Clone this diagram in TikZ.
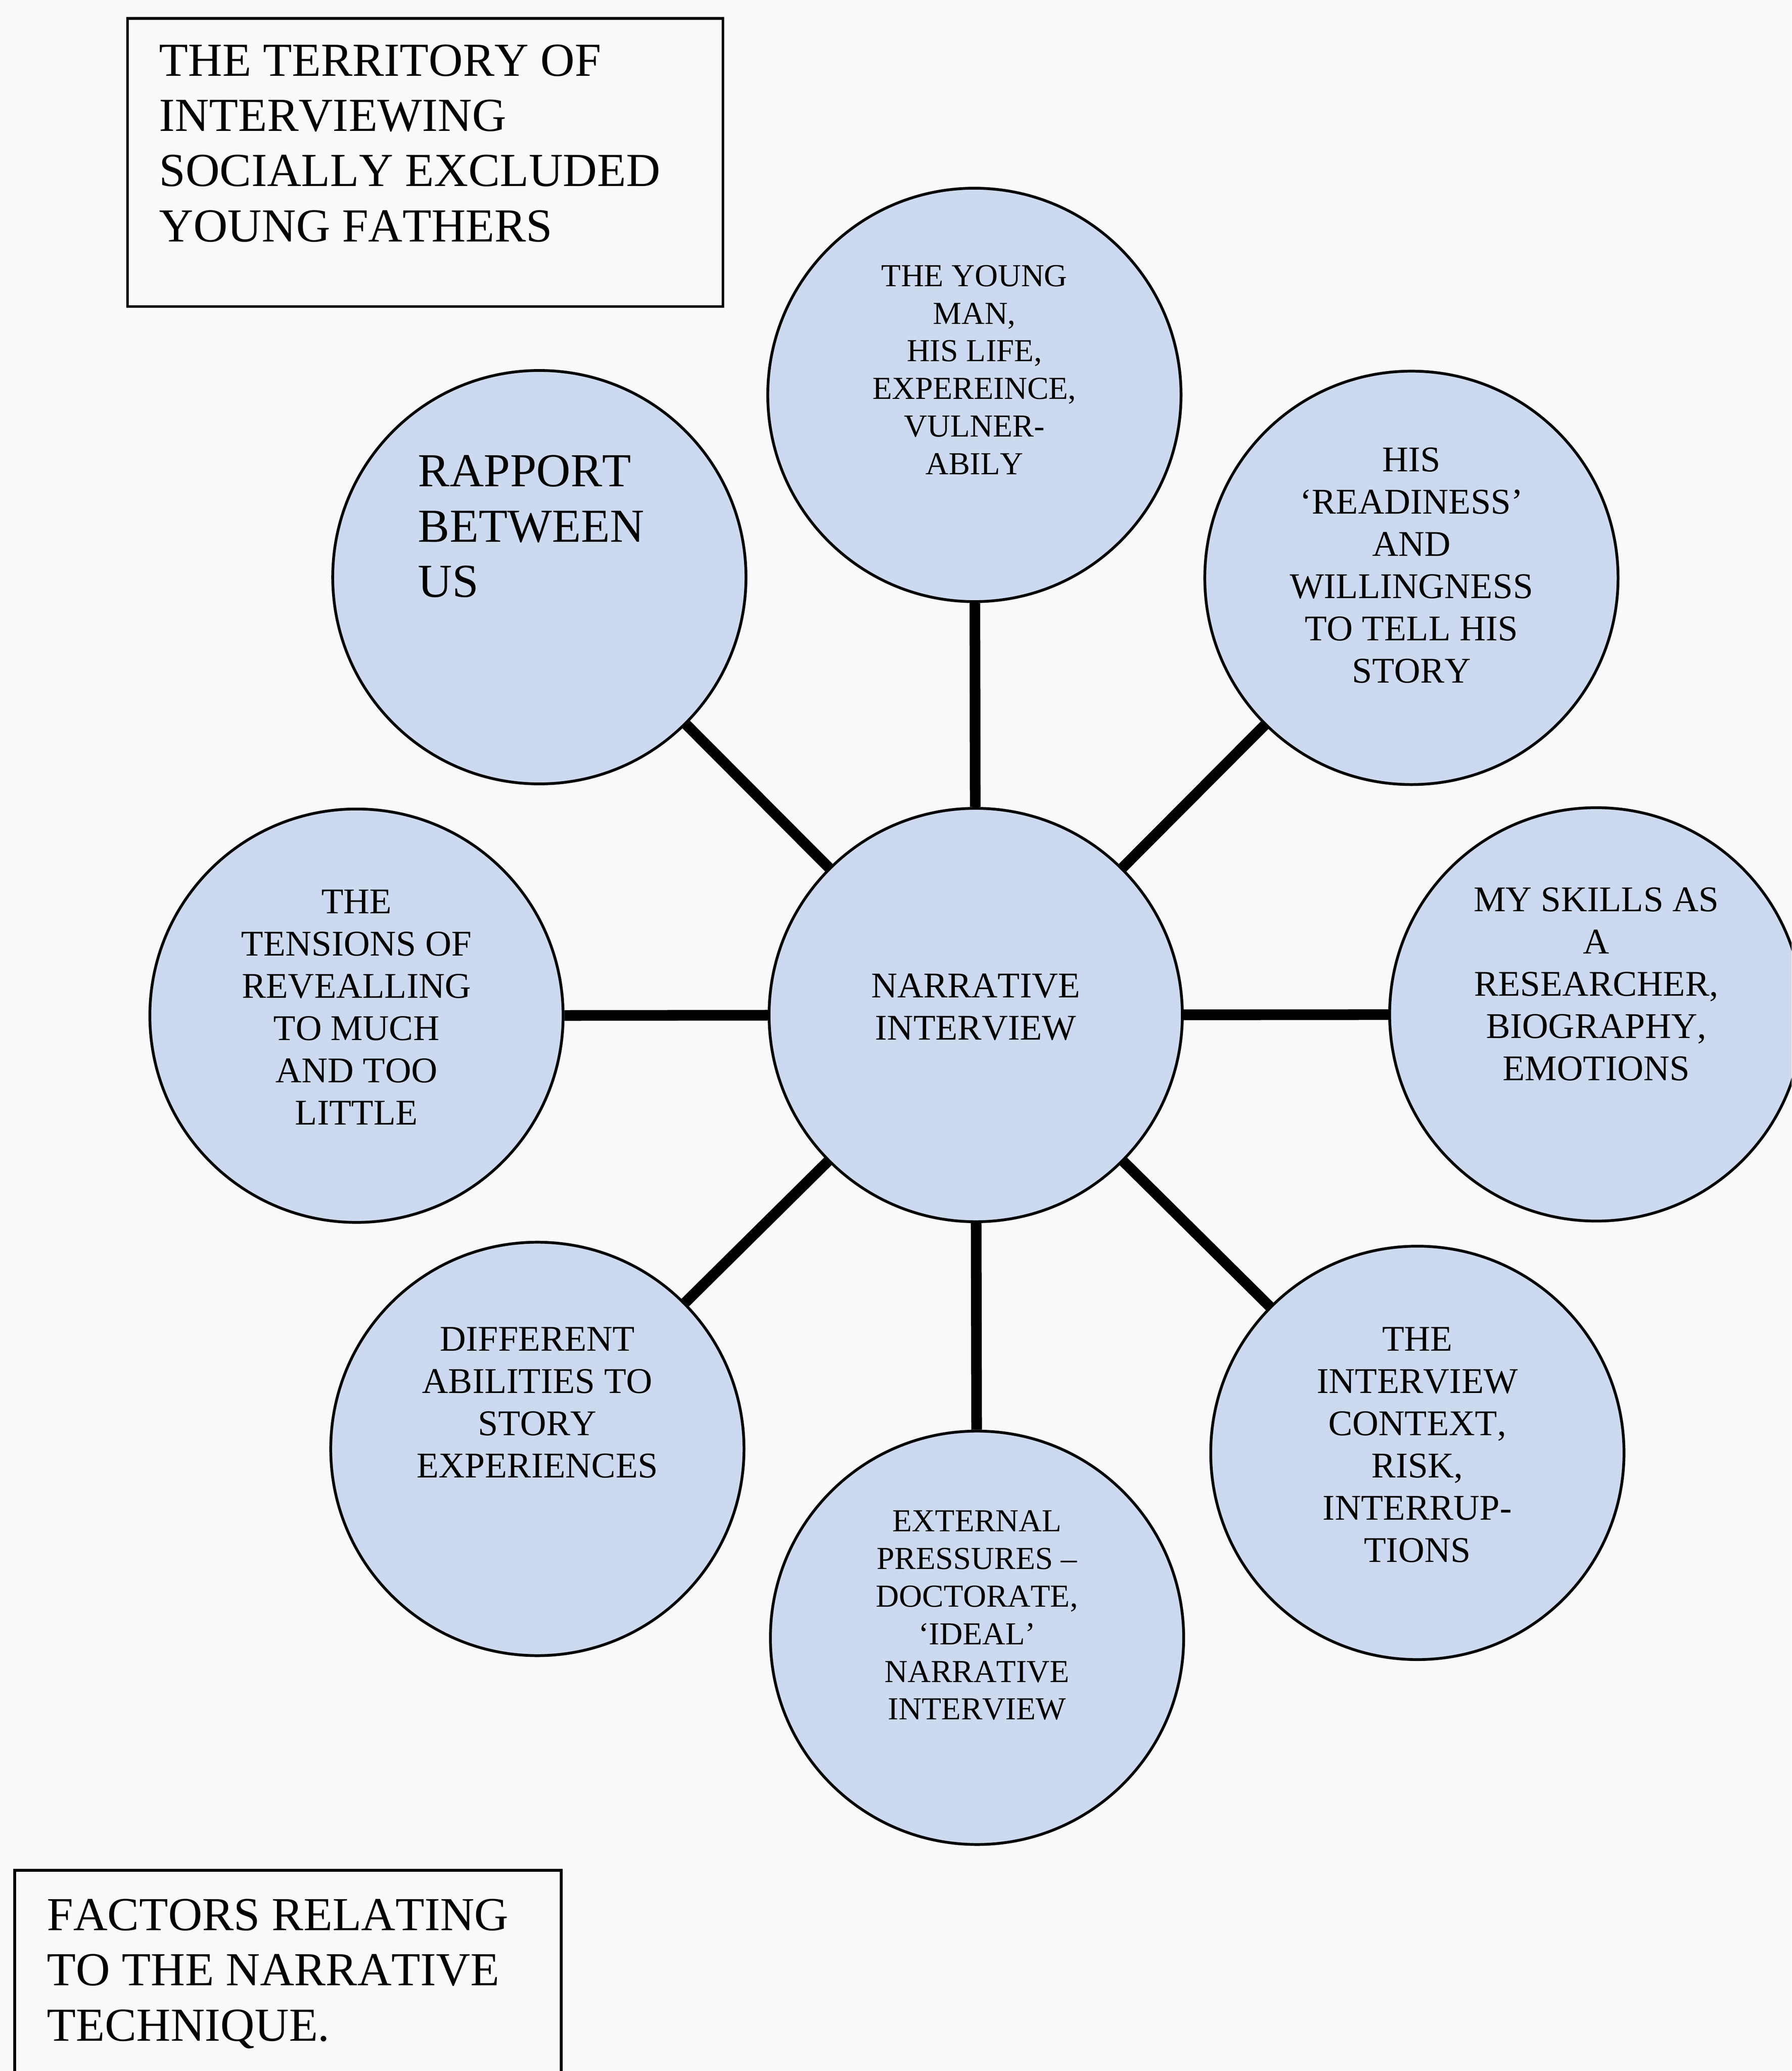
\documentclass[tikz,border=0pt]{standalone}
\usepackage{fontspec}
\setmainfont{Liberation Serif}[Kerning=Off]
\usepackage{tikz}

\definecolor{bubblue}{RGB}{205,217,238}
\definecolor{paper}{RGB}{250,250,252}

\begin{document}
\begin{tikzpicture}[
  bubble/.style={circle, draw, line width=0.6pt, fill=bubblue, minimum size=3.13cm, inner sep=0pt},
  bubtext/.style={align=center, inner sep=0pt, font={\fontsize{7.8pt}{9.1pt}\selectfont}},
  smalltext/.style={bubtext, font={\fontsize{6.9pt}{8.1pt}\selectfont}},
  bigtext/.style={align=left, inner sep=0pt, anchor=north west, font={\fontsize{10.2pt}{11.9pt}\selectfont}},
  framebox/.style={draw, line width=0.6pt, anchor=north west, inner sep=0pt},
  link/.style={line width=2.3pt}
]

\path[use as bounding box, fill=paper] (0,0) rectangle (13.57,-15.68);
\clip (0,0) rectangle (13.57,-15.68);

\node[framebox, minimum width=4.51cm, minimum height=2.18cm] (terr) at (0.955,-0.13) {};
\node[bigtext] (terrtext) at (1.20,-0.33) {THE TERRITORY OF\\INTERVIEWING\\SOCIALLY EXCLUDED\\YOUNG FATHERS};

\node[framebox, minimum width=4.14cm, minimum height=2.0cm] (fact) at (0.10,-14.15) {};
\node[bigtext] (facttext) at (0.35,-14.37) {FACTORS RELATING\\TO THE NARRATIVE\\TECHNIQUE.};

\node[bubble] (ni) at (7.39,-7.685) {};
\node[bubble] (ym) at (7.38,-2.99) {};
\node[bubble] (hr) at (10.69,-4.375) {};
\node[bubble] (ms) at (12.09,-7.68) {};
\node[bubble] (ic) at (10.735,-11.00) {};
\node[bubble] (ep) at (7.40,-12.40) {};
\node[bubble] (da) at (4.07,-10.97) {};
\node[bubble] (tt) at (2.70,-7.69) {};
\node[bubble] (ra) at (4.085,-4.37) {};

\draw[link] (ni) -- (ym);
\draw[link] (ni) -- (hr);
\draw[link] (ni) -- (ms);
\draw[link] (ni) -- (ic);
\draw[link] (ni) -- (ep);
\draw[link] (ni) -- (da);
\draw[link] (ni) -- (tt);
\draw[link] (ni) -- (ra);

\node[bubtext] (nitext) at (7.39,-7.625) {NARRATIVE\\INTERVIEW};
\node[smalltext] (ymtext) at (7.38,-2.80) {THE YOUNG\\MAN,\\HIS LIFE,\\EXPEREINCE,\\VULNER-\\ABILY};
\node[bubtext] (hrtext) at (10.69,-4.28) {HIS\\‘READINESS’\\AND\\WILLINGNESS\\TO TELL HIS\\STORY};
\node[bubtext] (mstext) at (12.09,-7.45) {MY SKILLS AS\\A\\RESEARCHER,\\BIOGRAPHY,\\EMOTIONS};
\node[bubtext] (ictext) at (10.735,-10.94) {THE\\INTERVIEW\\CONTEXT,\\RISK,\\INTERRUP-\\TIONS};
\node[smalltext] (eptext) at (7.40,-12.23) {EXTERNAL\\PRESSURES –\\DOCTORATE,\\‘IDEAL’\\NARRATIVE\\INTERVIEW};
\node[bubtext] (datext) at (4.07,-10.62) {DIFFERENT\\ABILITIES TO\\STORY\\EXPERIENCES};
\node[bubtext] (tttext) at (2.70,-7.625) {THE\\TENSIONS OF\\REVEALLING\\TO MUCH\\AND TOO\\LITTLE};
\node[bigtext] (ratext) at (3.16,-3.44) {RAPPORT\\BETWEEN\\US};

\end{tikzpicture}
\end{document}
